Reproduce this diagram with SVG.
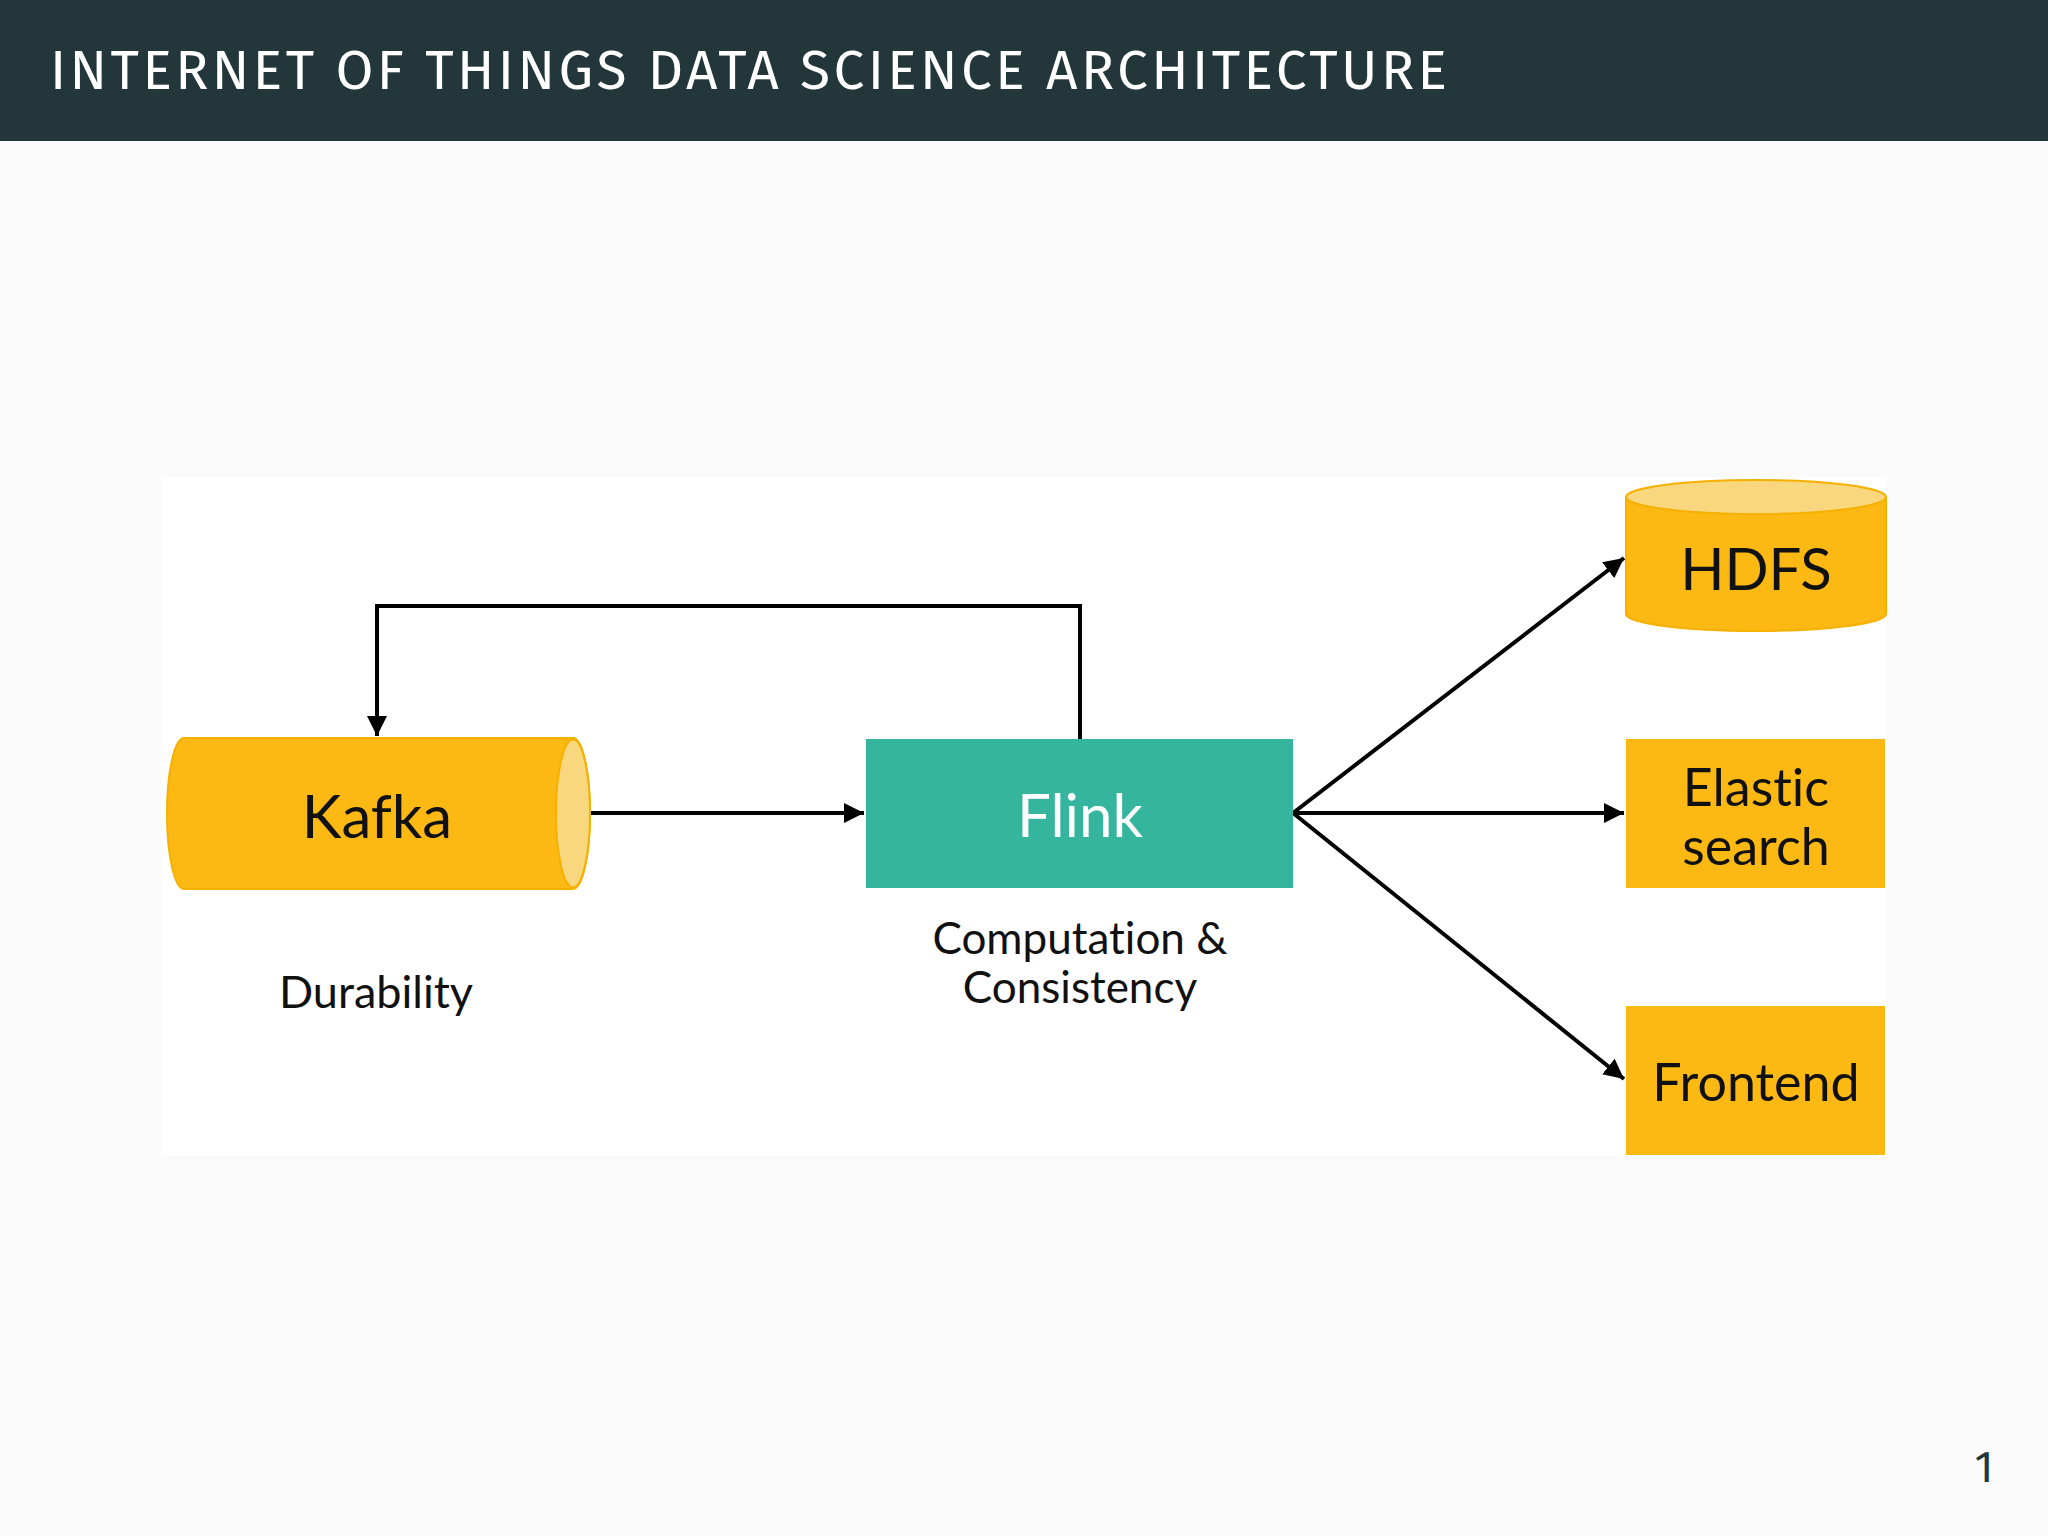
<svg xmlns="http://www.w3.org/2000/svg" width="2048" height="1536" viewBox="0 0 2048 1536">
<defs>
<marker id="arr" viewBox="0 0 10 10" refX="10" refY="5" markerWidth="5" markerHeight="5" markerUnits="strokeWidth" orient="auto">
<path d="M0,0 L10,5 L0,10 z" fill="#000"/>
</marker>
<style>
.lbl{font-family:Lato,"Noto Sans","Liberation Sans",sans-serif;fill:#111;text-anchor:middle;font-variant-ligatures:none}
.edge{fill:none;stroke:#000;stroke-width:4}
.yel{fill:#fdb913}
</style>
</defs>
<rect width="2048" height="1536" fill="#fafafa"/>
<rect width="2048" height="141" fill="#23373b"/>
<text x="50" y="89" font-family="'Fira Sans','Open Sans','Noto Sans',sans-serif" font-size="55" font-weight="400" fill="#ffffff" textLength="1397" lengthAdjust="spacing">INTERNET OF THINGS DATA SCIENCE ARCHITECTURE</text>
<rect x="161" y="477" width="1726" height="679" fill="#ffffff"/>

<g id="connectors">
<path class="edge" d="M1080,739 V606 H377 V736" marker-end="url(#arr)"/>
<path class="edge" d="M590,813 H864" marker-end="url(#arr)"/>
<path class="edge" d="M1293,813 L1624,558" marker-end="url(#arr)"/>
<path class="edge" d="M1293,813 H1624" marker-end="url(#arr)"/>
<path class="edge" d="M1293,813 L1624,1079" marker-end="url(#arr)"/>
</g>

<g id="kafka">
<path class="yel" d="M184,738 H573 A17,75.5 0 0 1 573,889 H184 A17,75.5 0 0 1 184,738 z" stroke="#f5b000" stroke-width="2"/>
<ellipse cx="573" cy="813.5" rx="17" ry="74" fill="#f9d77e" stroke="#f5b000" stroke-width="2"/>
<text class="lbl" x="377" y="838" font-size="60">Kafka</text>
<text class="lbl" x="376" y="1008" font-size="45">Durability</text>
</g>

<g id="flink">
<rect x="866" y="739" width="427" height="149" fill="#36b59e"/>
<text class="lbl" x="1080" y="837" font-size="60" style="fill:#ffffff">Flink</text>
<text class="lbl" x="1080" y="954" font-size="44">Computation &amp;</text>
<text class="lbl" x="1080" y="1003" font-size="44">Consistency</text>
</g>

<g id="hdfs">
<path class="yel" d="M1626,497 V614 A130,17 0 0 0 1886,614 V497 z" stroke="#f5b000" stroke-width="2"/>
<ellipse cx="1756" cy="497" rx="130" ry="17" fill="#f9d77e" stroke="#f5b000" stroke-width="2"/>
<text class="lbl" x="1756" y="590" font-size="58">HDFS</text>
</g>

<g id="elastic">
<rect class="yel" x="1626" y="739" width="259" height="149"/>
<text class="lbl" x="1756" y="806" font-size="52">Elastic</text>
<text class="lbl" x="1756" y="865" font-size="52">search</text>
</g>

<g id="frontend">
<rect class="yel" x="1626" y="1006" width="259" height="149"/>
<text class="lbl" x="1756" y="1101" font-size="52">Frontend</text>
</g>

<text x="1984" y="1482" font-family="'Fira Sans','Open Sans','Noto Sans',sans-serif" font-size="44" fill="#23373b" text-anchor="middle">1</text>
</svg>
